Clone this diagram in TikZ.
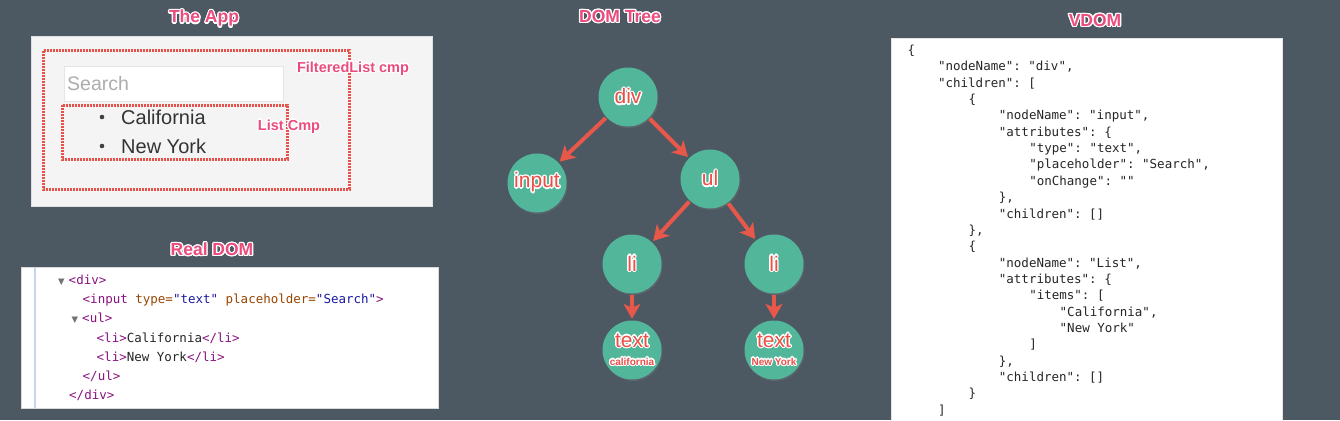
\documentclass[tikz,border=0pt]{standalone}
\usepackage{fontspec}
\setmainfont{Liberation Sans}
\setmonofont{DejaVu Sans Mono}
\newfontfamily\symfont{DejaVu Sans}
\usepackage[copies]{contour}
\usetikzlibrary{arrows.meta, positioning, shadows}

\definecolor{slate}{RGB}{76,89,99}
\definecolor{nodeteal}{RGB}{82,182,155}
\definecolor{arrowred}{RGB}{232,88,74}
\definecolor{lblred}{RGB}{234,80,72}
\definecolor{titlepink}{RGB}{234,76,126}
\definecolor{dotred}{RGB}{232,80,74}
\definecolor{appgray}{RGB}{244,244,244}
\definecolor{gutterblue}{RGB}{196,214,236}
\definecolor{tagpurple}{RGB}{136,18,128}
\definecolor{attrbrown}{RGB}{153,69,0}
\definecolor{valblue}{RGB}{26,26,166}

\contourlength{1.2pt}
\newcommand{\outl}[1]{\contour{white}{#1}}
\newcommand{\rdtag}[1]{\textcolor{tagpurple}{#1}}
\newcommand{\rdattr}[1]{\textcolor{attrbrown}{#1}}
\newcommand{\rdval}[1]{\textcolor{valblue}{#1}}
\newcommand{\rdtri}{{\color{black!55}\symfont\fontsize{8.5}{9}\selectfont ▼}\hspace{4pt}}

\begin{document}
\begin{tikzpicture}[x=1pt, y=-1pt, node distance=86pt, on grid,
    treenode/.style={circle, fill=nodeteal, minimum size=59pt, inner sep=0pt, text=lblred,
      font=\fontsize{21}{22}\selectfont, align=center,
      drop shadow={opacity=0.3, shadow xshift=1pt, shadow yshift=-1.5pt}},
    treeedge/.style={draw=arrowred, line width=4pt, shorten >=1.5pt, shorten <=1pt,
      -{Stealth[length=15pt, width=17pt, inset=4pt]}},
    paneltitle/.style={text=titlepink, font=\bfseries\fontsize{17.5}{20}\selectfont},
    cmplabel/.style={text=titlepink, font=\bfseries\fontsize{14.5}{16}\selectfont},
    dotbox/.style={draw=dotred, line width=3pt, dash pattern=on 1.6pt off 1.4pt},
    listitem/.style={anchor=west, inner sep=0pt, text=black!80, font=\fontsize{20}{22}\selectfont},
    rdline/.style={anchor=base west, inner sep=0pt, text=black!85, font=\ttfamily\fontsize{12.5}{14}\selectfont},
    vdline/.style={anchor=base west, inner sep=0pt, text=black!85, font=\ttfamily\fontsize{12.5}{14}\selectfont}]
  \useasboundingbox (0,0) rectangle (1340,420);
  \fill[slate] (0,0) rectangle (1340,420);

  % the app
  \node[paneltitle] (appT) at (204,19) {\outl{The App}};
  \draw[fill=appgray, draw=black!12] (31,36) rectangle (432,206);
  \node[anchor=north west, fill=white, draw=black!10, minimum height=35pt, text width=213pt,
    inner xsep=3pt, text=black!32, font=\fontsize{19.5}{22}\selectfont] (search) at (64,66) {Search};
  \node[listitem] (ca) at (121,117) {California};
  \node[listitem] (ny) at (121,146) {New York};
  \fill[black!75] (ca.west) ++(-19,0) circle (2.3pt);
  \fill[black!75] (ny.west) ++(-19,0) circle (2.3pt);
  \draw[dotbox] (43,51) rectangle (349,189);
  \draw[dotbox] (62,105) rectangle (287,159);
  \node[cmplabel] (flT) at (353,69) {\outl{FilteredList cmp}};
  \node[cmplabel] (lcT) at (289,127) {\outl{List Cmp}};

  % DOM tree
  \node[paneltitle] (treeT) at (620,17) {\outl{DOM Tree}};
  \node[treenode] (div) at (628,97) {\outl{div}};
  \node[treenode, below left=86pt and 91pt of div] (input) {\outl{input}};
  \node[treenode, below right=82pt and 82pt of div] (ul) {\outl{ul}};
  \node[treenode, below left=85pt and 78pt of ul] (liCa) {\outl{li}};
  \node[treenode, below right=85pt and 64pt of ul] (liNy) {\outl{li}};
  \node[treenode, below=of liCa] (txtCa) {\outl{text}\\[-4pt]{\bfseries\fontsize{10}{11}\selectfont\outl{california}}};
  \node[treenode, below=of liNy] (txtNy) {\outl{text}\\[-4pt]{\bfseries\fontsize{10}{11}\selectfont\outl{New York}}};
  \foreach \a/\b in {div/input, div/ul, ul/liCa, ul/liNy, liCa/txtCa, liNy/txtNy}
    \draw[treeedge] (\a) -- (\b);

  % real DOM
  \node[paneltitle] (realT) at (212,250) {\outl{Real DOM}};
  \draw[fill=white, draw=black!15] (21,267) rectangle (438,408);
  \draw[gutterblue, line width=1.5pt] (35,267) -- (35,408);
  \node[rdline] (rd1) at (58,284.5) {\rdtri\rdtag{<div>}};
  \node[rdline] (rd2) at (82.5,303.5) {\rdtag{<input} \rdattr{type=}\rdval{"text"} \rdattr{placeholder=}\rdval{"Search"}\rdtag{>}};
  \node[rdline] (rd3) at (71.5,322.5) {\rdtri\rdtag{<ul>}};
  \node[rdline] (rd4) at (96.5,342) {\rdtag{<li>}California\rdtag{</li>}};
  \node[rdline] (rd5) at (96.5,361) {\rdtag{<li>}New York\rdtag{</li>}};
  \node[rdline] (rd6) at (82.5,380.5) {\rdtag{</ul>}};
  \node[rdline] (rd7) at (69,399.5) {\rdtag{</div>}};

  % VDOM
  \node[paneltitle] (vdomT) at (1095,21) {\outl{VDOM}};
  \draw[fill=white, draw=black!10] (891,38) rectangle (1282,422);
  \foreach \lv/\txt [count=\i from 0] in {0/\{, 1/{"nodeName": "div",}, 1/{"children": [}, 2/\{,
      3/{"nodeName": "input",}, 3/{"attributes": \{}, 4/{"type": "text",},
      4/{"placeholder": "Search",}, 4/{"onChange": ""}, 3/{\},}, 3/{"children": []},
      2/{\},}, 2/\{, 3/{"nodeName": "List",}, 3/{"attributes": \{}, 4/{"items": [},
      5/{"California",}, 5/{"New York"}, 4/], 3/{\},}, 3/{"children": []}, 2/\}, 1/]}
    \node[vdline] (vd\i) at (907.5+\lv*30.4, 54.5+\i*16.35) {\txt};
\end{tikzpicture}
\end{document}
